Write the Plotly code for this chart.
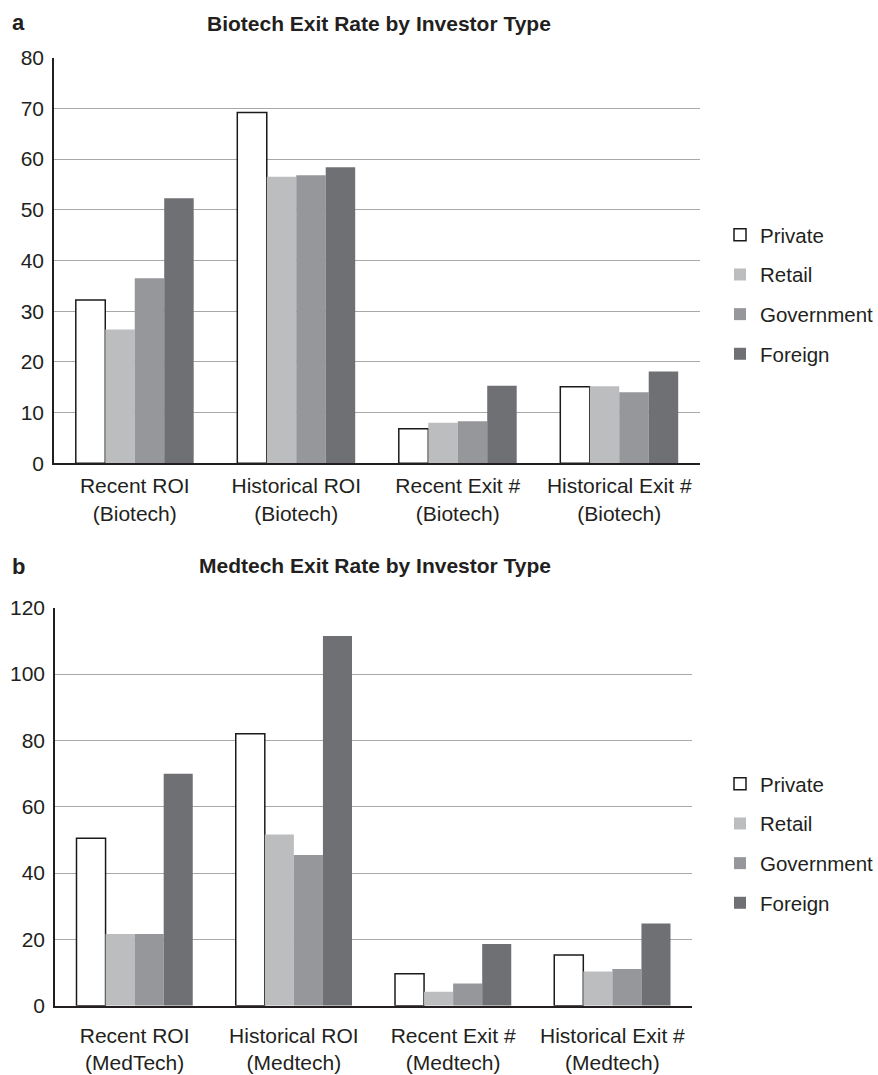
import plotly.graph_objects as go

series = ["Private", "Retail", "Government", "Foreign"]
colors = ["#ffffff", "#bcbdbf", "#96979b", "#6f7074"]

bio_categories = ["Recent ROI<br>(Biotech)", "Historical ROI<br>(Biotech)",
                  "Recent Exit #<br>(Biotech)", "Historical Exit #<br>(Biotech)"]
bio_private = [32.2, 69.2, 6.8, 15.1]
bio_retail = [26.4, 56.5, 8.0, 15.2]
bio_government = [36.5, 56.8, 8.3, 14.0]
bio_foreign = [52.3, 58.4, 15.3, 18.1]

med_categories = ["Recent ROI<br>(MedTech)", "Historical ROI<br>(Medtech)",
                  "Recent Exit #<br>(Medtech)", "Historical Exit #<br>(Medtech)"]
med_private = [50.5, 82.0, 9.6, 15.3]
med_retail = [21.6, 51.6, 4.2, 10.3]
med_government = [21.6, 45.4, 6.7, 11.1]
med_foreign = [69.9, 111.5, 18.6, 24.8]

bio_ticks = [0, 10, 20, 30, 40, 50, 60, 70, 80]
med_ticks = [0, 20, 40, 60, 80, 100, 120]

FONT = "Liberation Sans, Arial, sans-serif"
W, H = 878, 1075

fig = go.Figure()

bio_vals = [bio_private, bio_retail, bio_government, bio_foreign]
med_vals = [med_private, med_retail, med_government, med_foreign]

for i, name in enumerate(series):
    line = dict(color="#1a1a1a", width=1.5) if i == 0 else dict(color=colors[i], width=0)
    fig.add_trace(go.Bar(x=bio_categories, y=bio_vals[i], name=name,
                         marker=dict(color=colors[i], line=line),
                         xaxis="x", yaxis="y", legend="legend",
                         legendgroup="a" + name))
for i, name in enumerate(series):
    line = dict(color="#1a1a1a", width=1.5) if i == 0 else dict(color=colors[i], width=0)
    fig.add_trace(go.Bar(x=med_categories, y=med_vals[i], name=name,
                         marker=dict(color=colors[i], line=line),
                         xaxis="x2", yaxis="y2", legend="legend2",
                         legendgroup="b" + name))

axis_font = dict(family=FONT, size=21, color="#231f20")
common_x = dict(showline=True, linecolor="#231f20", linewidth=1.5, ticks="",
                tickfont=axis_font, showgrid=False, automargin=False)
common_y = dict(showline=True, linecolor="#231f20", linewidth=1.5, ticks="",
                tickfont=axis_font, showgrid=True, gridcolor="#a8a8a8",
                gridwidth=1, zeroline=False, automargin=False,
                ticklabelstandoff=4)

fig.update_layout(
    width=W, height=H,
    margin=dict(l=0, r=0, t=0, b=0, autoexpand=False),
    paper_bgcolor="white", plot_bgcolor="white",
    barmode="group", bargap=0.27, bargroupgap=0,
    font=dict(family=FONT, color="#231f20"),
    xaxis=dict(domain=[54 / W, 700 / W], anchor="y", ticklabelstandoff=3, **common_x),
    yaxis=dict(domain=[1 - 463.3 / H, 1 - 57.7 / H], anchor="x",
               range=[0, 80], tickvals=bio_ticks, **common_y),
    xaxis2=dict(domain=[55 / W, 692 / W], anchor="y2", ticklabelstandoff=10, **common_x),
    yaxis2=dict(domain=[1 - 1005.7 / H, 1 - 607.7 / H], anchor="x2",
                range=[0, 120], tickvals=med_ticks, **common_y),
    legend=dict(x=720 / W, xanchor="left", y=1 - 215 / H, yanchor="top",
                font=dict(family=FONT, size=20.5, color="#231f20"),
                tracegroupgap=10, bgcolor="rgba(0,0,0,0)"),
    legend2=dict(x=720 / W, xanchor="left", y=1 - 764 / H, yanchor="top",
                 font=dict(family=FONT, size=20.5, color="#231f20"),
                 tracegroupgap=10, bgcolor="rgba(0,0,0,0)"),
    annotations=[
        dict(text="<b>a</b>", x=10 / W, y=1 - 22 / H, xref="paper", yref="paper",
             xanchor="left", yanchor="middle", showarrow=False,
             font=dict(family=FONT, size=22, color="#231f20")),
        dict(text="<b>Biotech Exit Rate by Investor Type</b>", x=379 / W, y=1 - 24 / H,
             xref="paper", yref="paper", xanchor="center", yanchor="middle",
             showarrow=False, font=dict(family=FONT, size=21, color="#231f20")),
        dict(text="<b>b</b>", x=10 / W, y=1 - 566 / H, xref="paper", yref="paper",
             xanchor="left", yanchor="middle", showarrow=False,
             font=dict(family=FONT, size=22, color="#231f20")),
        dict(text="<b>Medtech Exit Rate by Investor Type</b>", x=375 / W, y=1 - 565 / H,
             xref="paper", yref="paper", xanchor="center", yanchor="middle",
             showarrow=False, font=dict(family=FONT, size=21, color="#231f20")),
    ],
)

fig.write_html("out.html", config={"displayModeBar": False},
               post_script="document.body.style.margin='0';")
